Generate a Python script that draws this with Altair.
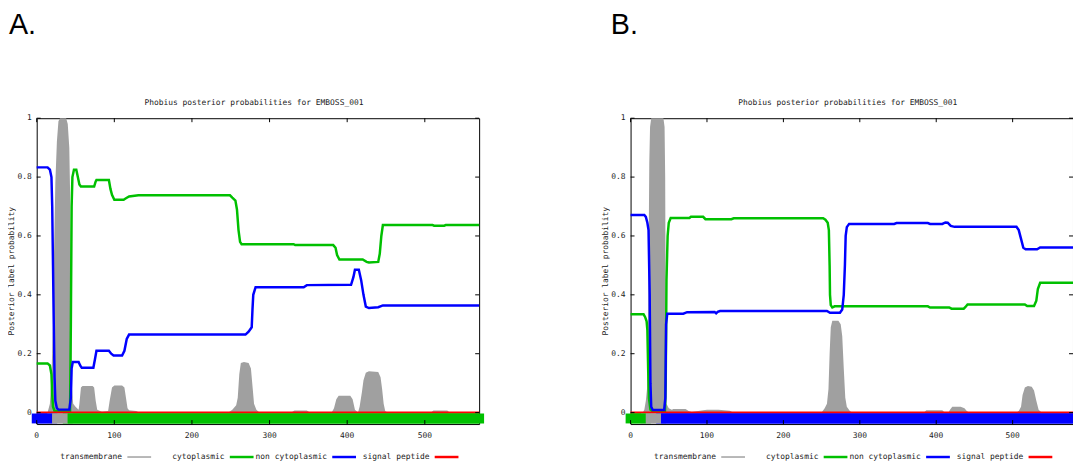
import altair as alt
import pandas as pd

# ---------------- data ----------------
x_tick_values = [0, 100, 200, 300, 400, 500]
y_tick_values = [0, 0.2, 0.4, 0.6, 0.8, 1]

series_names = ["transmembrane", "cytoplasmic", "non cytoplasmic", "signal peptide"]
series_colors = ["#a0a0a0", "#00c000", "#0000ff", "#ff0000"]

title_text = "Phobius posterior probabilities for EMBOSS_001"
y_title = "Posterior label probability"
panel_letters = ["A.", "B."]

# ----- Panel A -----
A_len = 570
A_tm_x = [0, 14, 17, 19, 21, 22, 24, 26, 28, 30, 38, 40, 42, 43, 44, 45, 47, 50, 54,
          55, 57, 59, 72, 74, 76, 78, 84, 92, 94, 97, 100, 110, 113, 115, 117, 119, 128, 132,
          247, 252, 257, 259, 261, 263, 267, 273, 276, 278, 280, 283, 287,
          328, 332, 348, 352,
          380, 383, 386, 389, 404, 407, 410, 414,
          416, 419, 421, 424, 428, 440, 443, 445, 447, 449, 452,
          508, 511, 529, 532, 570]
A_tm = [0, 0, 0.03, 0.12, 0.3, 0.5, 0.78, 0.92, 0.99, 1.0, 1.0, 0.98, 0.9, 0.75, 0.4, 0.1, 0.03, 0.02, 0.01,
        0.03, 0.085, 0.09, 0.09, 0.085, 0.04, 0.01, 0.003, 0.005, 0.04, 0.085, 0.092, 0.092, 0.085, 0.05, 0.015, 0.008, 0.005, 0,
        0, 0.01, 0.025, 0.05, 0.13, 0.168, 0.172, 0.168, 0.15, 0.09, 0.03, 0.01, 0,
        0, 0.007, 0.007, 0,
        0, 0.015, 0.045, 0.057, 0.057, 0.045, 0.01, 0,
        0.02, 0.07, 0.11, 0.135, 0.14, 0.138, 0.12, 0.08, 0.03, 0.005, 0,
        0, 0.007, 0.007, 0, 0]

A_cyto_x = [0, 14, 17, 19, 20, 21, 23, 43, 44, 45, 46, 48, 51, 53, 55, 57, 74, 76, 77, 93, 95, 97, 100,
            112, 115, 119, 131, 249, 252, 256, 258, 260, 262, 264, 331, 333, 382, 385, 387, 390, 420,
            425, 428, 440, 442, 444, 446, 510, 512, 525, 527, 570]
A_cyto = [0.167, 0.167, 0.16, 0.13, 0.06, 0.02, 0.005, 0.005, 0.3, 0.7, 0.8, 0.825, 0.825, 0.8, 0.775, 0.768,
          0.768, 0.785, 0.79, 0.79, 0.76, 0.74, 0.723, 0.723, 0.728, 0.734, 0.738, 0.738, 0.73, 0.72, 0.69,
          0.62, 0.58, 0.572, 0.572, 0.569, 0.569, 0.56, 0.535, 0.52, 0.52, 0.512, 0.51, 0.512, 0.54, 0.6,
          0.637, 0.637, 0.635, 0.635, 0.637, 0.637]

A_ncyto_x = [0, 14, 17, 19, 20, 21, 22, 23, 24, 26, 28, 42, 44, 45, 46.5, 54, 56, 58, 73, 75, 77, 93, 96,
             99, 110, 113, 116, 119, 269, 273, 277, 278, 279, 282, 344, 348, 405, 408, 410, 415, 418,
             421, 424, 428, 440, 446, 570]
A_ncyto = [0.833, 0.833, 0.825, 0.8, 0.7, 0.5, 0.3, 0.12, 0.04, 0.015, 0.01, 0.01, 0.05, 0.15, 0.172, 0.172,
           0.16, 0.152, 0.152, 0.18, 0.21, 0.21, 0.2, 0.194, 0.194, 0.21, 0.25, 0.265, 0.265, 0.275, 0.29,
           0.35, 0.4, 0.426, 0.426, 0.433, 0.434, 0.46, 0.485, 0.485, 0.45, 0.4, 0.36, 0.355, 0.358, 0.364,
           0.364]

A_sp_x = [0, 570]
A_sp = [0, 0]

A_topo_start = [0, 20, 40]
A_topo_end = [20, 40, 570]
A_topo_label = ["non cytoplasmic", "transmembrane", "cytoplasmic"]

# ----- Panel B -----
B_len = 579
B_tm_x = [0, 16, 18, 20, 21.5, 22.5, 23.5, 24.5, 25.5, 27, 43, 44.5, 45.3, 46, 47, 50, 54, 56, 60, 72, 76,
          80, 95, 100, 115, 130, 134,
          250, 254, 257, 259, 260.5, 262, 264, 272, 275, 277, 279, 281, 283, 287, 290,
          384, 387, 408, 411,
          416, 418, 421, 432, 437, 440, 443,
          505, 508, 511, 513, 516, 520, 525, 528, 531, 534, 538, 579]
B_tm = [0, 0, 0.01, 0.04, 0.08, 0.2, 0.5, 0.85, 0.97, 1.0, 1.0, 0.97, 0.8, 0.3, 0.03, 0.015, 0.01, 0.012,
        0.012, 0.012, 0.005, 0.002, 0.008, 0.01, 0.01, 0.006, 0,
        0, 0.015, 0.03, 0.08, 0.2, 0.29, 0.312, 0.312, 0.3, 0.26, 0.15, 0.05, 0.02, 0.005, 0,
        0, 0.008, 0.008, 0,
        0, 0.01, 0.02, 0.02, 0.015, 0.005, 0,
        0, 0.005, 0.02, 0.06, 0.085, 0.09, 0.088, 0.075, 0.04, 0.01, 0, 0]

B_cyto_x = [0, 17, 19, 21, 22, 23, 24, 26, 28, 45, 46, 47, 48.5, 50, 52.5, 77, 79, 95, 98, 132, 135, 252,
            255, 258, 259.5, 260.5, 261, 262, 264, 267, 389, 392, 417, 420, 436, 438, 441, 516, 519,
            528, 531, 533, 536, 579]
B_cyto = [0.334, 0.334, 0.325, 0.31, 0.28, 0.15, 0.05, 0.01, 0.005, 0.005, 0.1, 0.45, 0.6, 0.645, 0.661,
          0.661, 0.665, 0.665, 0.657, 0.657, 0.66, 0.66, 0.655, 0.645, 0.62, 0.5, 0.4, 0.365, 0.357, 0.361,
          0.361, 0.357, 0.357, 0.353, 0.353, 0.358, 0.367, 0.367, 0.362, 0.362, 0.38, 0.42, 0.441, 0.441]

B_ncyto_x = [0, 18, 20, 22, 23.5, 25, 26, 27, 29, 44, 45.5, 46.5, 48, 69, 74, 110, 112, 114, 117, 257, 261,
             274, 277, 279, 280.5, 281.5, 283, 286, 345, 348, 389, 392, 408, 412, 415, 419, 424, 505, 508,
             511, 514, 517, 532, 536, 579]
B_ncyto = [0.671, 0.671, 0.665, 0.645, 0.62, 0.4, 0.1, 0.02, 0.009, 0.009, 0.05, 0.3, 0.336, 0.336, 0.341,
           0.342, 0.337, 0.342, 0.345, 0.345, 0.339, 0.339, 0.35, 0.4, 0.5, 0.6, 0.63, 0.641, 0.641, 0.644,
           0.644, 0.641, 0.641, 0.646, 0.645, 0.634, 0.631, 0.631, 0.62, 0.59, 0.56, 0.555, 0.555, 0.561,
           0.561]

B_sp_x = [0, 579]
B_sp = [0, 0]

B_topo_start = [0, 20, 40]
B_topo_end = [20, 40, 579]
B_topo_label = ["cytoplasmic", "transmembrane", "non cytoplasmic"]

# ---------------- styling ----------------
W, H = 447, 309
Y_DOMAIN = [-0.039, 1.0]
FONT = "DejaVu Sans Mono"
TXT = "#222222"
color_scale = alt.Scale(domain=series_names, range=series_colors)


def panel(letter, letter_dx, length, tm_x, tm_y, cy_x, cy_y, nc_x, nc_y, sp_x, sp_y,
          t_start, t_end, t_label):
    xs = alt.Scale(domain=[0, length], nice=False, zero=False)
    ys = alt.Scale(domain=Y_DOMAIN, nice=False, zero=False)

    area = alt.Chart(pd.DataFrame({"x": tm_x, "p": tm_y})).mark_area(
        color=series_colors[0], interpolate="linear").encode(
        x=alt.X("x:Q", scale=xs, axis=None),
        y=alt.Y("p:Q", scale=ys, axis=None),
        y2=alt.datum(0),
    )

    def line(xv, yv, color, width):
        return alt.Chart(pd.DataFrame({"x": xv, "p": yv})).mark_line(
            color=color, strokeWidth=width, interpolate="linear").encode(
            x=alt.X("x:Q", scale=xs, axis=None),
            y=alt.Y("p:Q", scale=ys, axis=None),
        )

    cy_line = line(cy_x, cy_y, series_colors[1], 2.5)
    nc_line = line(nc_x, nc_y, series_colors[2], 2.5)
    sp_line = line(sp_x, sp_y, series_colors[3], 2.2)

    topo = pd.DataFrame({"start": t_start, "end": t_end, "label": t_label})
    band_base = alt.Chart(topo).encode(
        x=alt.X("start:Q", scale=xs, axis=None), x2="end:Q",
        y=alt.datum(-0.02, scale=ys, axis=None),
        color=alt.Color("label:N", scale=color_scale, legend=None),
    )
    band_sq = band_base.mark_rule(strokeWidth=10, strokeCap="square")
    band_butt = band_base.mark_rule(strokeWidth=10, strokeCap="butt")

    xt = pd.DataFrame({"v": x_tick_values})
    yt = pd.DataFrame({"v": y_tick_values})
    xb = alt.Chart(xt).mark_rule(color="black", strokeWidth=1).encode(
        x=alt.X("v:Q", scale=xs, axis=None), y=alt.value(H), y2=alt.value(H - 4))
    xtop = alt.Chart(xt).mark_rule(color="black", strokeWidth=1).encode(
        x=alt.X("v:Q", scale=xs, axis=None), y=alt.value(0), y2=alt.value(4))
    yl = alt.Chart(yt).mark_rule(color="black", strokeWidth=1).encode(
        y=alt.Y("v:Q", scale=ys, axis=None), x=alt.value(0), x2=alt.value(4))
    yr = alt.Chart(yt).mark_rule(color="black", strokeWidth=1).encode(
        y=alt.Y("v:Q", scale=ys, axis=None), x=alt.value(W - 4), x2=alt.value(W))

    # tick labels (axis labels) drawn through the scales
    xlab = alt.Chart(xt).mark_text(font=FONT, fontSize=8, align="center", baseline="top",
                                   color=TXT).encode(
        x=alt.X("v:Q", scale=xs, axis=None), y=alt.value(H + 8),
        text=alt.Text("v:Q", format="d"))
    ylab = alt.Chart(yt).mark_text(font=FONT, fontSize=8, align="right", baseline="middle",
                                   color=TXT).encode(
        y=alt.Y("v:Q", scale=ys, axis=None), x=alt.value(-5),
        text=alt.Text("v:Q", format="~g"))
    ytitle = alt.Chart(pd.DataFrame({"t": [y_title]})).mark_text(
        font=FONT, fontSize=8, align="center", baseline="bottom", angle=270, color=TXT).encode(
        x=alt.value(-20.45), y=alt.value(H / 2), text="t:N")

    leg = pd.DataFrame({"name": series_names, "i": list(range(len(series_names)))})
    leg_base = alt.Chart(leg).transform_calculate(
        tx="86.3 + datum.i * 103.5",
        lx="91.6 + datum.i * 103.5",
        lx2="115.6 + datum.i * 103.5",
        sw="datum.i == 0 ? 1.5 : 2.5",
    )
    leg_text = leg_base.mark_text(font=FONT, fontSize=8, align="right", baseline="middle",
                                  color=TXT).encode(
        x=alt.X("tx:Q", scale=None), y=alt.value(342.3), text="name:N")
    leg_line = leg_base.mark_rule().encode(
        x=alt.X("lx:Q", scale=None), x2="lx2:Q", y=alt.value(342.3),
        color=alt.Color("name:N", scale=color_scale, legend=None),
        strokeWidth=alt.StrokeWidth("sw:Q", scale=None, legend=None),
    )

    ttl = alt.Chart(pd.DataFrame({"t": [title_text]})).mark_text(
        font=FONT, fontSize=8, align="center", baseline="bottom", color=TXT).encode(
        x=alt.value(W / 2 - 4), y=alt.value(-11.5), text="t:N")

    lt = alt.Chart(pd.DataFrame({"t": [letter]})).mark_text(
        font="Liberation Sans", fontSize=29, align="left", baseline="top", color="black").encode(
        x=alt.value(letter_dx), y=alt.value(-107.7), text="t:N")

    return alt.layer(area, cy_line, nc_line, sp_line, band_sq, band_butt,
                     xb, xtop, yl, yr, xlab, ylab, ytitle, leg_line, leg_text, ttl, lt
                     ).properties(width=W, height=H)


panel_A = panel(panel_letters[0], -28, A_len, A_tm_x, A_tm, A_cyto_x, A_cyto, A_ncyto_x, A_ncyto,
                A_sp_x, A_sp, A_topo_start, A_topo_end, A_topo_label)
panel_B = panel(panel_letters[1], -20, B_len, B_tm_x, B_tm, B_cyto_x, B_cyto, B_ncyto_x, B_ncyto,
                B_sp_x, B_sp, B_topo_start, B_topo_end, B_topo_label)

chart = alt.hconcat(panel_A, panel_B, spacing=153, bounds="flush").properties(
    padding={"left": 0, "top": 0, "right": -8, "bottom": 0},
    background="white",
).configure_view(stroke="black", strokeWidth=1)

chart.save("out.html", embed_options={"renderer": "svg", "actions": False})
